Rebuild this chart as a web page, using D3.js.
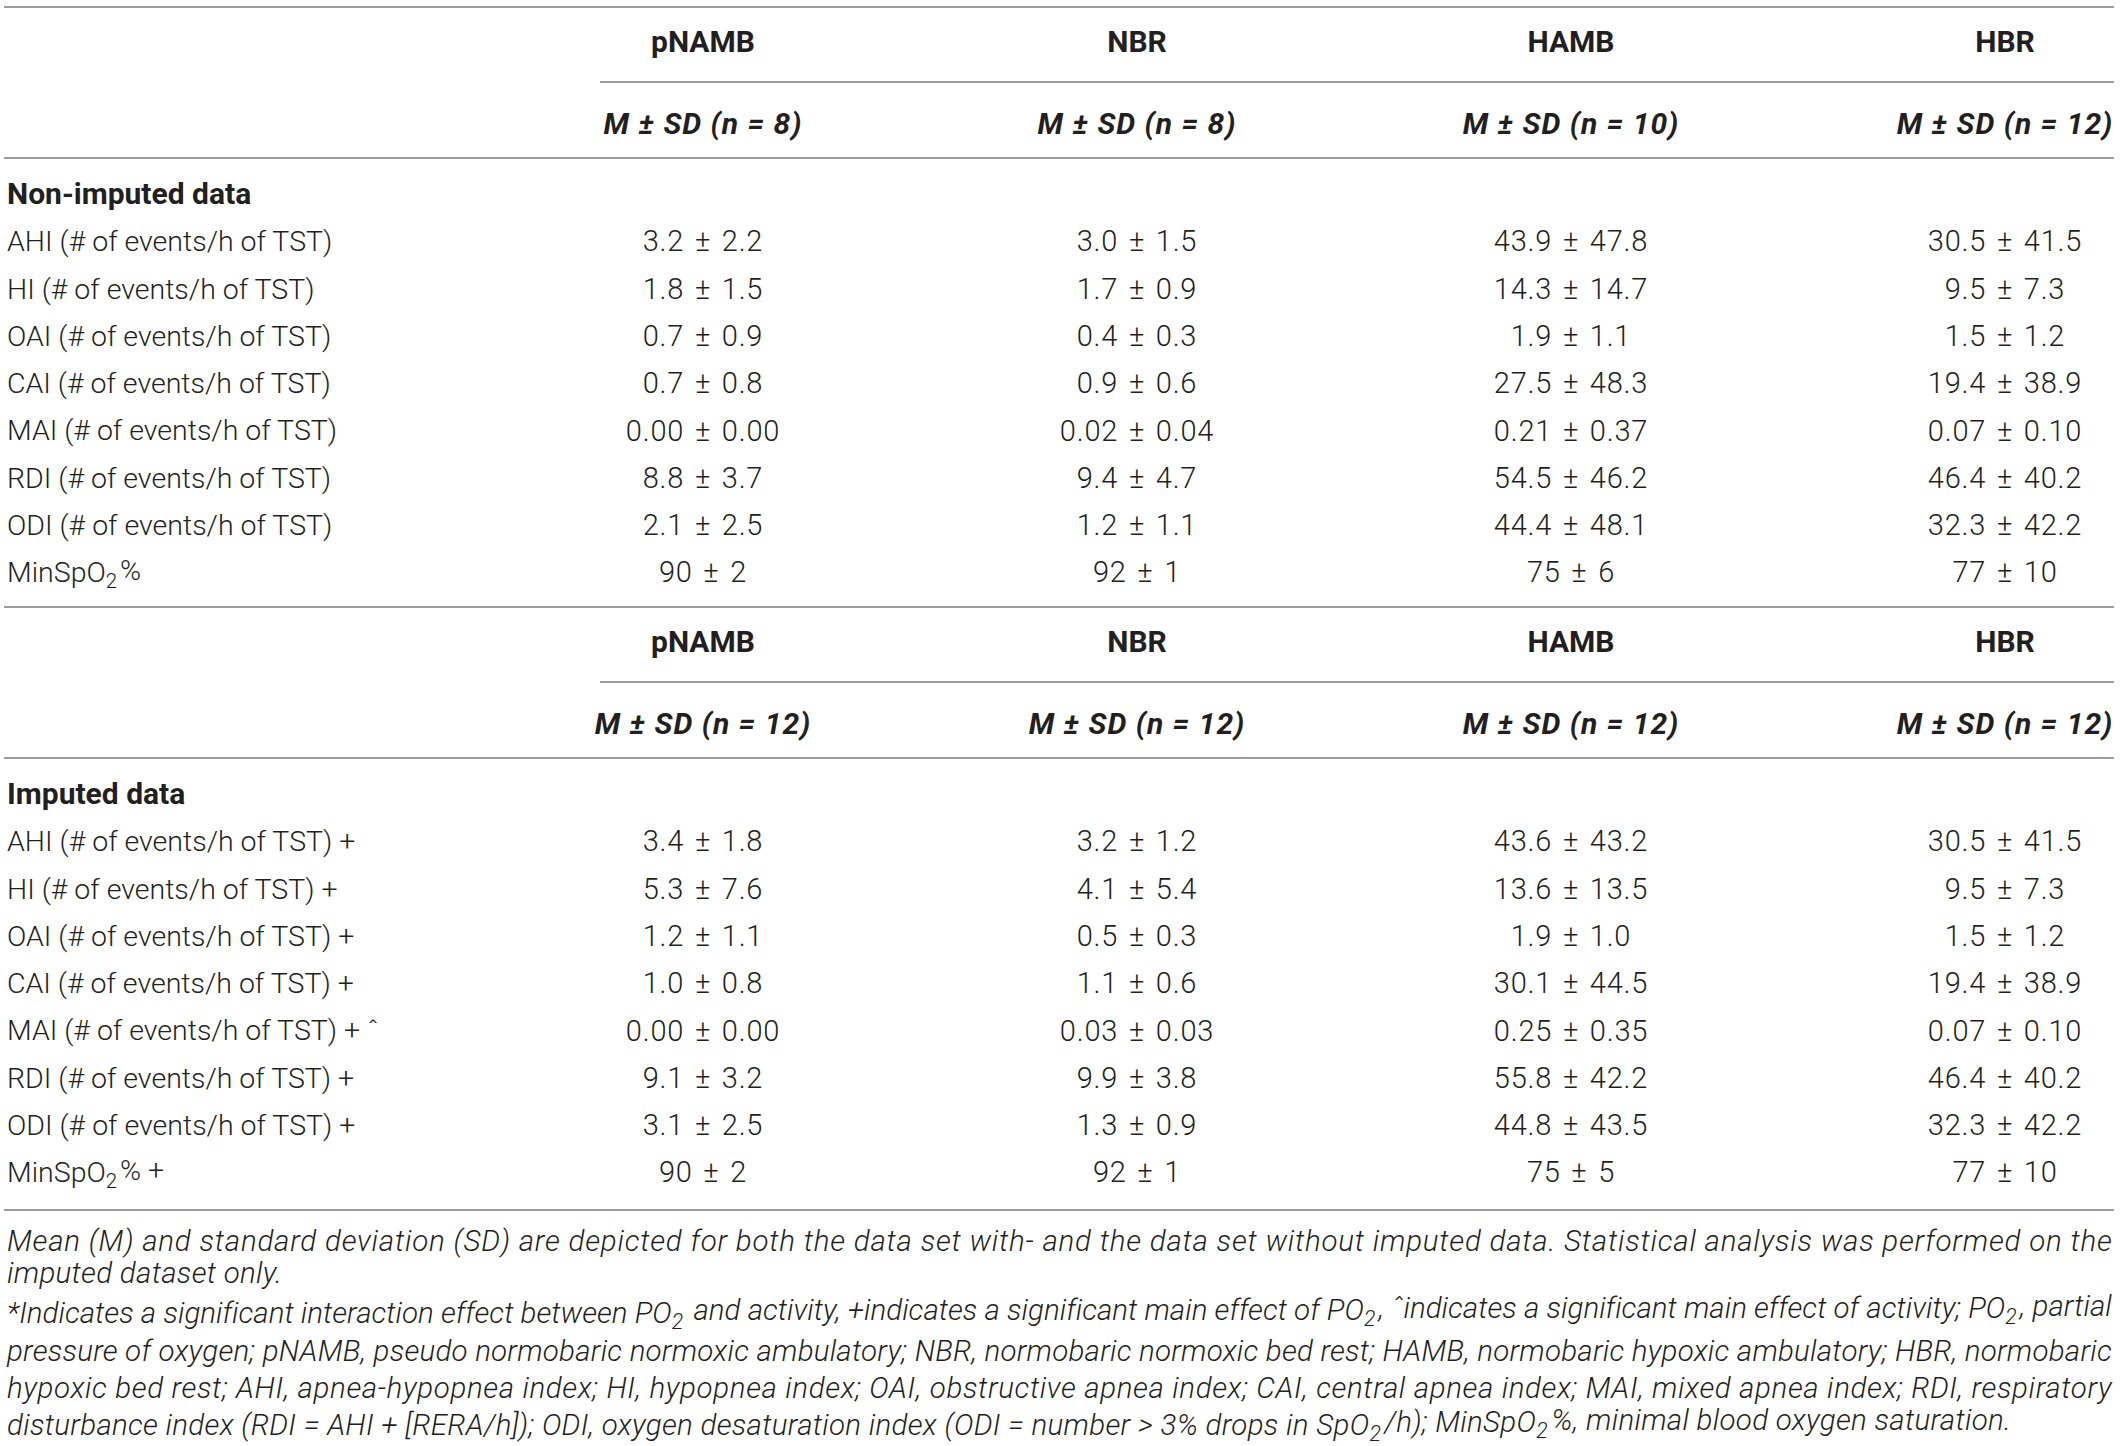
<!DOCTYPE html>
<html lang="en">
<head>
    <meta charset="UTF-8">
    <script src="https://d3js.org/d3.v7.min.js"></script>
    <title>Sleep indices table</title>
    <style>
        body{
            margin: 0;
            background: #fff;
        }
        svg{
            display: block;
            font-family: Roboto, sans-serif;
        }
        text{
            fill: #231f20;
        }
        .label{
            font-size: 28.5px;
            font-weight: 300;
        }
        .cell{
            font-size: 29px;
            font-weight: 300;
            letter-spacing: 0.8px;
        }
        .head{
            font-size: 30px;
            font-weight: 700;
        }
        .sub{
            font-size: 30px;
            font-weight: 700;
            font-style: italic;
            letter-spacing: 1px;
        }
        .note{
            font-size: 29.5px;
            font-weight: 300;
            font-style: italic;
            letter-spacing: 0.3px;
        }
        line{
            stroke: #9d9d9d;
            stroke-width: 2;
        }
    </style>
</head>
<body>
<svg width="2120" height="1446"></svg>
<script>
// groups and sample sizes
let groups = ["pNAMB", "NBR", "HAMB", "HBR"]
let nNonImputed = [8, 8, 10, 12]
let nImputed = [12, 12, 12, 12]

// row measures
let measures = ["AHI", "HI", "OAI", "CAI", "MAI", "RDI", "ODI", "MinSpO2%"]
let decimals = [1, 1, 1, 1, 2, 1, 1, 0]
let imputedMarks = ["+", "+", "+", "+", "+ \u02c6", "+", "+", "+"]

// non-imputed data: mean and sd per group (rows follow measures)
let nonMean = {
    pNAMB: [3.2, 1.8, 0.7, 0.7, 0.00, 8.8, 2.1, 90],
    NBR:   [3.0, 1.7, 0.4, 0.9, 0.02, 9.4, 1.2, 92],
    HAMB:  [43.9, 14.3, 1.9, 27.5, 0.21, 54.5, 44.4, 75],
    HBR:   [30.5, 9.5, 1.5, 19.4, 0.07, 46.4, 32.3, 77]
}
let nonSd = {
    pNAMB: [2.2, 1.5, 0.9, 0.8, 0.00, 3.7, 2.5, 2],
    NBR:   [1.5, 0.9, 0.3, 0.6, 0.04, 4.7, 1.1, 1],
    HAMB:  [47.8, 14.7, 1.1, 48.3, 0.37, 46.2, 48.1, 6],
    HBR:   [41.5, 7.3, 1.2, 38.9, 0.10, 40.2, 42.2, 10]
}
// imputed data
let impMean = {
    pNAMB: [3.4, 5.3, 1.2, 1.0, 0.00, 9.1, 3.1, 90],
    NBR:   [3.2, 4.1, 0.5, 1.1, 0.03, 9.9, 1.3, 92],
    HAMB:  [43.6, 13.6, 1.9, 30.1, 0.25, 55.8, 44.8, 75],
    HBR:   [30.5, 9.5, 1.5, 19.4, 0.07, 46.4, 32.3, 77]
}
let impSd = {
    pNAMB: [1.8, 7.6, 1.1, 0.8, 0.00, 3.2, 2.5, 2],
    NBR:   [1.2, 5.4, 0.3, 0.6, 0.03, 3.8, 0.9, 1],
    HAMB:  [43.2, 13.5, 1.0, 44.5, 0.35, 42.2, 43.5, 5],
    HBR:   [41.5, 7.3, 1.2, 38.9, 0.10, 40.2, 42.2, 10]
}

// footnote lines, as broken in the original ("_2" marks a subscript 2)
let noteLines = [
    {t: "Mean (M) and standard deviation (SD) are depicted for both the data set with- and the data set without imputed data. Statistical analysis was performed on the", j: true},
    {t: "imputed dataset only.", j: false},
    {t: "*Indicates a significant interaction effect between PO_2 and activity, +indicates a significant main effect of PO_2, \u02c6indicates a significant main effect of activity; PO_2, partial", j: true},
    {t: "pressure of oxygen; pNAMB, pseudo normobaric normoxic ambulatory; NBR, normobaric normoxic bed rest; HAMB, normobaric hypoxic ambulatory; HBR, normobaric", j: true},
    {t: "hypoxic bed rest; AHI, apnea-hypopnea index; HI, hypopnea index; OAI, obstructive apnea index; CAI, central apnea index; MAI, mixed apnea index; RDI, respiratory", j: true},
    {t: "disturbance index (RDI = AHI + [RERA/h]); ODI, oxygen desaturation index (ODI = number > 3% drops in SpO_2/h); MinSpO_2%, minimal blood oxygen saturation.", j: false}
]
let noteY = [1240, 1272, 1312, 1350, 1387, 1424]

let svg = d3.select("svg")
let left = 4, right = 2114, labelX = 7

let x = d3.scalePoint().domain(groups).range([703, 2005])

// writes text with "_2" style subscripts as tspans
function richText(sel, str) {
    let parts = str.split(/(SpO_2|PO_2)/)
    parts.forEach(function (p) {
        if (p === "SpO_2" || p === "PO_2") {
            sel.append("tspan").text(p.replace("_2", ""))
            sel.append("tspan").attr("dy", "0.28em").attr("font-size", "0.72em").text("2")
            sel.append("tspan").attr("dy", "-0.28em").text("\u200a")
        } else if (p.length) {
            sel.append("tspan").text(p)
        }
    })
}

function hline(y, x0) {
    svg.append("line").attr("x1", x0 === undefined ? left : x0).attr("x2", right)
        .attr("y1", y).attr("y2", y)
}

function fmt(m, s, d) {
    return d3.format("." + d + "f")(m) + "\u2004\u00b1\u2004" + d3.format("." + d + "f")(s)
}

function block(top, title, ns, means, sds, marks) {
    // group header
    svg.selectAll(null).data(groups).enter().append("text")
        .attr("class", "head").attr("text-anchor", "middle")
        .attr("x", function (d) { return x(d) }).attr("y", top + 34)
        .attr("dy", "0.36em").text(function (d) { return d })
    hline(top + 75, 600)
    svg.selectAll(null).data(groups).enter().append("text")
        .attr("class", "sub").attr("text-anchor", "middle")
        .attr("x", function (d) { return x(d) }).attr("y", top + 116)
        .attr("dy", "0.36em")
        .text(function (d, i) { return "M \u00b1 SD (n = " + ns[i] + ")" })
    hline(top + 151)
    svg.append("text").attr("class", "head").attr("x", labelX).attr("y", top + 186)
        .attr("dy", "0.36em").text(title)

    let y = d3.scalePoint().domain(d3.range(measures.length)).range([top + 234, top + 565])

    // row labels
    svg.selectAll(null).data(measures).enter().append("text")
        .attr("class", "label").attr("x", labelX)
        .attr("y", function (d, i) { return y(i) }).attr("dy", "0.36em")
        .each(function (d, i) {
            let lab = d === "MinSpO2%" ? "MinSpO_2%" : d + " (# of events/h of TST)"
            if (marks) lab += " " + marks[i]
            richText(d3.select(this), lab)
        })

    // values
    groups.forEach(function (g) {
        svg.selectAll(null).data(means[g]).enter().append("text")
            .attr("class", "cell").attr("text-anchor", "middle")
            .attr("x", x(g)).attr("y", function (d, i) { return y(i) }).attr("dy", "0.36em")
            .text(function (d, i) { return fmt(d, sds[g][i], decimals[i]) })
    })
}

hline(7)
block(7, "Non-imputed data", nNonImputed, nonMean, nonSd, null)
hline(607)
block(607, "Imputed data", nImputed, impMean, impSd, imputedMarks)
hline(1210)

// footnote
svg.selectAll(null).data(noteLines).enter().append("text")
    .attr("class", "note").attr("x", labelX)
    .attr("y", function (d, i) { return noteY[i] }).attr("dy", "0.36em")
    .each(function (d) {
        let t = d3.select(this)
        richText(t, d.t)
        if (d.j) t.attr("textLength", right - labelX - 2).attr("lengthAdjust", "spacing")
    })
</script>
</body>
</html>
